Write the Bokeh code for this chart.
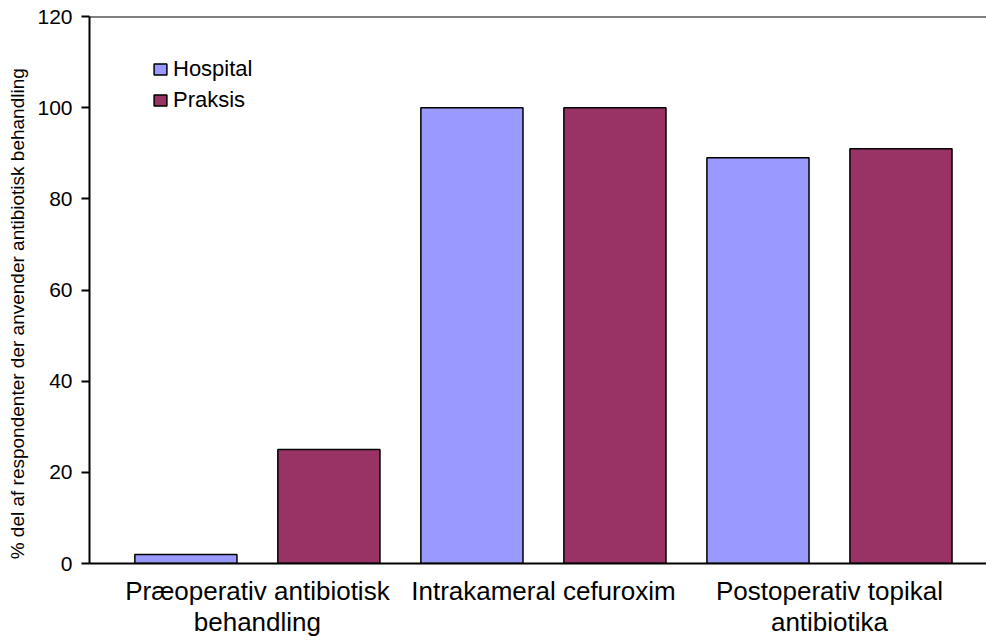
from bokeh.plotting import figure
from bokeh.models import ColumnDataSource, FixedTicker, Span, Legend, LegendItem
from bokeh.embed import file_html
from bokeh.resources import INLINE

categories = ["Præoperativ antibiotisk\nbehandling", "Intrakameral cefuroxim", "Postoperativ topikal\nantibiotika"]
hospital = [2, 100, 89]
praksis = [25, 100, 91]
series_names = ["Hospital", "Praksis"]
series_colors = ["#9999FF", "#993366"]
y_ticks = [0, 20, 40, 60, 80, 100, 120]
y_title = "% del af respondenter der anvender antibiotisk behandling"

FONT = "Liberation Sans"
x = list(range(len(categories)))
offset = 0.25
bw = 0.357

p = figure(width=986, height=640, output_backend="svg", toolbar_location=None,
           x_range=(-0.587, 2.549), y_range=(0, 120),
           min_border_left=89, min_border_right=0, min_border_top=16, min_border_bottom=77)
p.background_fill_color = "white"
p.border_fill_color = "white"
p.outline_line_color = None
p.xgrid.visible = False
p.ygrid.visible = False

src_h = ColumnDataSource(dict(x=[i - offset for i in x], top=hospital))
src_p = ColumnDataSource(dict(x=[i + offset for i in x], top=praksis))
r_h = p.vbar(x="x", top="top", width=bw, bottom=0, source=src_h,
             fill_color=series_colors[0], line_color="black", line_width=1.5)
r_p = p.vbar(x="x", top="top", width=bw, bottom=0, source=src_p,
             fill_color=series_colors[1], line_color="black", line_width=1.5)

top_line = Span(location=120, dimension="width", line_color="black", line_width=2)
p.add_layout(top_line)

# y axis
ya = p.yaxis[0]
ya.ticker = FixedTicker(ticks=y_ticks)
ya.major_tick_out = 8
ya.major_tick_in = 0
ya.minor_tick_line_color = None
ya.axis_line_width = 2
ya.axis_line_color = "black"
ya.major_tick_line_width = 2
ya.major_label_text_font = FONT
ya.major_label_text_font_size = "21px"
ya.major_label_text_color = "black"
ya.major_label_standoff = 9
ya.axis_label = y_title + "\u00a0" * 9
ya.axis_label_text_font = FONT
ya.axis_label_text_font_size = "19px"
ya.axis_label_text_font_style = "normal"
ya.axis_label_text_color = "black"
ya.axis_label_standoff = 6

# x axis
xa = p.xaxis[0]
xa.ticker = FixedTicker(ticks=x)
xa.major_label_overrides = {i: c for i, c in zip(x, categories)}
xa.major_tick_line_color = None
xa.minor_tick_line_color = None
xa.axis_line_width = 2
xa.axis_line_color = "black"
xa.major_label_text_font = FONT
xa.major_label_text_font_size = "26px"
xa.major_label_text_color = "black"
xa.major_label_standoff = 6
xa.major_label_text_line_height = 1.05

legend = Legend(items=[LegendItem(label=series_names[0], renderers=[r_h]),
                       LegendItem(label=series_names[1], renderers=[r_p])],
                location=(63, 450), orientation="vertical")
legend.padding = 0
legend.margin = 0
legend.spacing = 5
legend.glyph_width = 16
legend.glyph_height = 14
legend.label_height = 22
legend.label_standoff = 5
legend.label_text_font = FONT
legend.label_text_font_size = "22px"
legend.label_text_color = "black"
legend.border_line_color = None
legend.background_fill_alpha = 0
p.add_layout(legend)

open("out.html", "w").write(file_html(p, INLINE))
